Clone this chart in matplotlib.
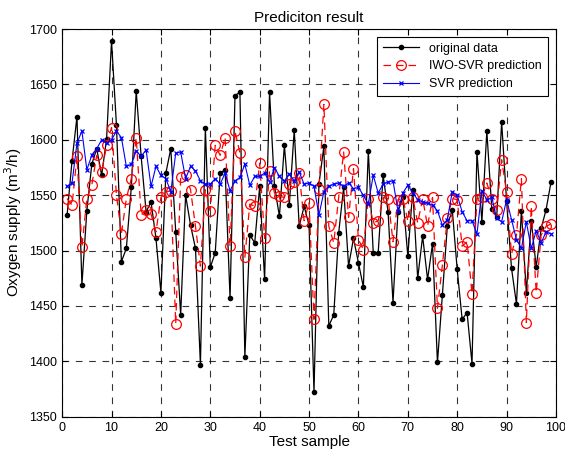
import matplotlib.pyplot as plt
import numpy as np

plt.rcParams['font.family'] = ['Liberation Sans', 'DejaVu Sans']

# Values (samples 1..99)
original = [1532, 1581, 1621, 1469, 1536, 1578, 1592, 1568, 1601, 1689,
            1613, 1490, 1502, 1557, 1644, 1585, 1535, 1544, 1511, 1462,
            1570, 1592, 1517, 1442, 1550, 1523, 1502, 1397, 1611, 1485,
            1498, 1570, 1573, 1457, 1640, 1643, 1404, 1514, 1507, 1558,
            1474, 1643, 1558, 1531, 1595, 1541, 1609, 1522, 1540, 1523,
            1372, 1560, 1594, 1432, 1442, 1516, 1557, 1486, 1511, 1489,
            1467, 1590, 1498, 1498, 1568, 1535, 1453, 1535, 1548, 1495,
            1555, 1475, 1513, 1474, 1506, 1399, 1460, 1522, 1537, 1483,
            1438, 1444, 1398, 1589, 1526, 1608, 1538, 1530, 1616, 1545,
            1484, 1452, 1536, 1462, 1527, 1485, 1520, 1537, 1562]

iwo_svr = [1547, 1541, 1585, 1503, 1547, 1559, 1586, 1571, 1595, 1611,
           1550, 1515, 1547, 1565, 1602, 1532, 1537, 1533, 1517, 1548,
           1553, 1554, 1434, 1566, 1568, 1555, 1522, 1486, 1555, 1536,
           1595, 1586, 1602, 1504, 1608, 1588, 1494, 1542, 1540, 1579,
           1511, 1572, 1552, 1549, 1548, 1560, 1562, 1570, 1527, 1543,
           1438, 1556, 1632, 1522, 1507, 1548, 1589, 1530, 1574, 1510,
           1501, 1547, 1525, 1527, 1548, 1547, 1508, 1546, 1547, 1527,
           1548, 1525, 1547, 1522, 1548, 1448, 1487, 1529, 1547, 1546,
           1504, 1508, 1461, 1547, 1548, 1561, 1547, 1537, 1582, 1553,
           1497, 1514, 1565, 1435, 1540, 1462, 1514, 1522, 1524]

svr = [1558, 1561, 1597, 1608, 1573, 1586, 1592, 1600, 1597, 1600,
       1608, 1602, 1576, 1578, 1590, 1585, 1591, 1558, 1576, 1568,
       1565, 1553, 1588, 1589, 1565, 1576, 1572, 1563, 1560, 1560,
       1565, 1560, 1570, 1554, 1563, 1566, 1578, 1559, 1567, 1567,
       1570, 1562, 1575, 1567, 1563, 1569, 1563, 1571, 1560, 1561,
       1558, 1532, 1553, 1558, 1560, 1561, 1558, 1561, 1556, 1557,
       1550, 1542, 1568, 1552, 1560, 1562, 1563, 1536, 1552, 1559,
       1552, 1546, 1544, 1543, 1541, 1536, 1523, 1528, 1553, 1550,
       1535, 1527, 1527, 1515, 1554, 1546, 1548, 1529, 1526, 1546,
       1528, 1510, 1502, 1526, 1502, 1518, 1507, 1517, 1515]

samples = np.arange(1, len(original) + 1)

fig = plt.figure(figsize=(5.65, 4.54), dpi=100)
ax = fig.add_axes([0.110, 0.082, 0.874, 0.854])

ax.plot(samples, original, color='black', linewidth=0.9, marker='.',
        markersize=6, label='original data')
ax.plot(samples, iwo_svr, color='red', linewidth=0.9, linestyle=(0, (6, 4)),
        marker='o', markersize=7, markerfacecolor='none', markeredgewidth=0.9,
        label='IWO-SVR prediction')
ax.plot(samples, svr, color='blue', linewidth=0.8, marker='x',
        markersize=3.5, markeredgewidth=0.9, label='SVR prediction')

ax.set_xlim(0, 100)
ax.set_ylim(1350, 1700)
ax.set_xticks(range(0, 101, 10))
ax.set_yticks(range(1350, 1701, 50))

ax.grid(True, color='black', linestyle=(0, (6, 6)), linewidth=0.8, alpha=0.8)
ax.tick_params(direction='in', top=True, right=True, labelsize=9, length=4)
for s in ax.spines.values():
    s.set_linewidth(0.8)

ax.set_title('Prediciton result', fontsize=11, pad=5)
ax.set_xlabel('Test sample', fontsize=11, labelpad=1)
ax.set_ylabel('Oxygen supply (m$^3$/h)', fontsize=11, labelpad=4)

leg = ax.legend(loc='upper right', fontsize=9, fancybox=False, framealpha=1,
                edgecolor='black', handlelength=2.9, borderaxespad=0.6,
                labelspacing=0.45, borderpad=0.5)
leg.get_frame().set_linewidth(0.8)

fig.savefig('out.png', dpi=100)
